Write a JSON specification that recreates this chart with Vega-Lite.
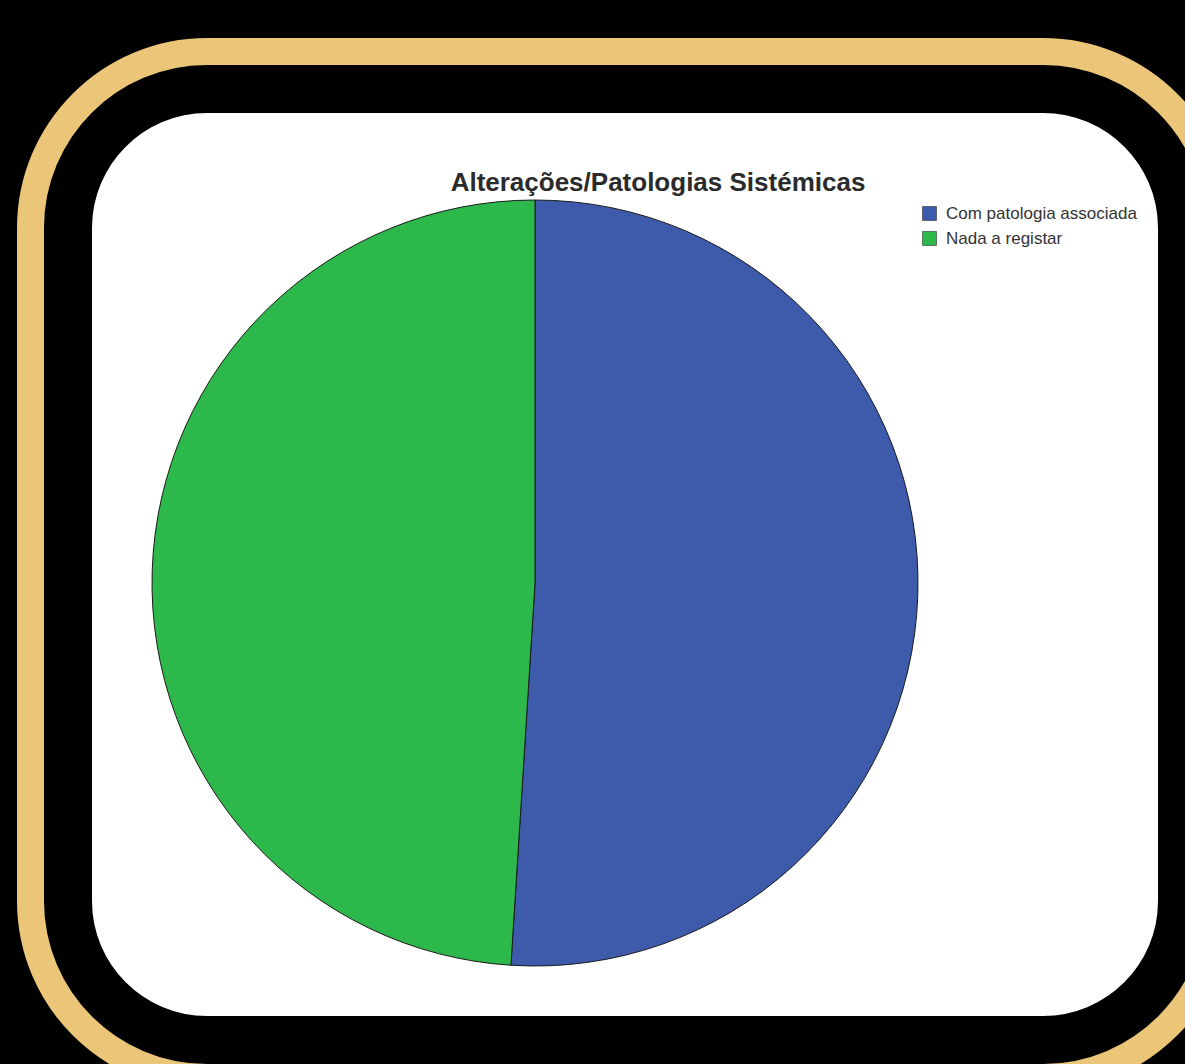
{
  "$schema": "https://vega.github.io/schema/vega-lite/v6.json",
  "width": 1114,
  "height": 951,
  "autosize": {"type": "none"},
  "padding": {"left": 68, "top": 89, "right": 3, "bottom": 24},
  "background": "black",
  "title": {
    "text": "Alterações/Patologias Sistémicas",
    "anchor": "middle",
    "frame": "group",
    "offset": -179,
    "baseline": "alphabetic",
    "dx": 33,
    "font": "Liberation Sans",
    "fontSize": 26,
    "fontWeight": "bold",
    "color": "#2b2b2b"
  },
  "layer": [
    {
      "data": {"values": [{"panel": "frame"}]},
      "mark": {"type": "rect", "fill": "white", "stroke": "#EBC578", "strokeWidth": 102, "cornerRadius": 139},
      "encoding": {}
    },
    {
      "data": {"values": [{"panel": "chart area"}]},
      "mark": {"type": "rect", "fill": "white", "stroke": "black", "strokeWidth": 48, "cornerRadius": 139},
      "encoding": {}
    },
    {
      "data": {
        "values": [
          {"categoria": "Com patologia associada", "valor": 51},
          {"categoria": "Nada a registar", "valor": 49}
        ]
      },
      "mark": {"type": "arc", "radius": 383, "xOffset": -90, "yOffset": 18.5, "stroke": "#1a1a1a", "strokeWidth": 1},
      "encoding": {
        "theta": {"field": "valor", "type": "quantitative", "stack": true},
        "order": {"field": "categoria", "type": "nominal", "sort": "ascending"},
        "color": {
          "field": "categoria",
          "type": "nominal",
          "scale": {"domain": ["Com patologia associada", "Nada a registar"], "range": ["#3D5BAA", "#2DB84B"]},
          "legend": {
            "title": null,
            "orient": "none",
            "legendX": 853,
            "legendY": 116,
            "symbolType": "square",
            "symbolSize": 196,
            "symbolStrokeColor": "#333333",
            "symbolStrokeWidth": 0.6,
            "labelFont": "Liberation Sans",
            "labelFontSize": 17,
            "labelColor": "#333333",
            "labelOffset": 8,
            "labelLimit": 0,
            "rowPadding": 7,
            "padding": 0
          }
        }
      }
    }
  ],
  "config": {
    "view": {"stroke": null}
  }
}
